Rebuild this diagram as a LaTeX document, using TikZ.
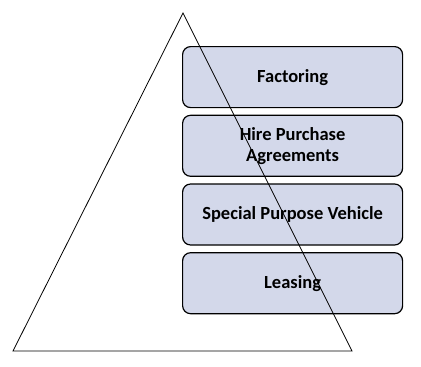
\documentclass[tikz,border=0pt]{standalone}
\usepackage{fontspec}
\setmainfont{Carlito}
\usepackage{xcolor}
\usepackage{tikz}
\usetikzlibrary{positioning}

\definecolor{boxfill}{HTML}{D3D8EA}

\begin{document}
\begin{tikzpicture}[
  x=1pt,y=-1pt,
  box/.style={draw,rounded corners=8pt,line width=1.2pt,fill=boxfill,minimum width=220pt,minimum height=61pt,align=center,font=\fontsize{18.5}{21}\selectfont\bfseries,inner sep=2pt},
  edge/.style={line width=0.8pt},
  node distance=6.5pt
]
\useasboundingbox (0,0) rectangle (421,367);
\node[box,anchor=north west] (factoring) at (182,46) {Factoring};
\node[box,below=of factoring] (hire) {Hire Purchase\\Agreements};
\node[box,below=of hire] (spv) {Special Purpose Vehicle};
\node[box,below=of spv] (leasing) {Leasing};
% pyramid
\coordinate (apex) at (183,13);
\coordinate (left) at (13,351);
\coordinate (right) at (352,351);
\draw[edge] (apex) -- (left) -- (right) -- cycle;
\end{tikzpicture}
\end{document}
